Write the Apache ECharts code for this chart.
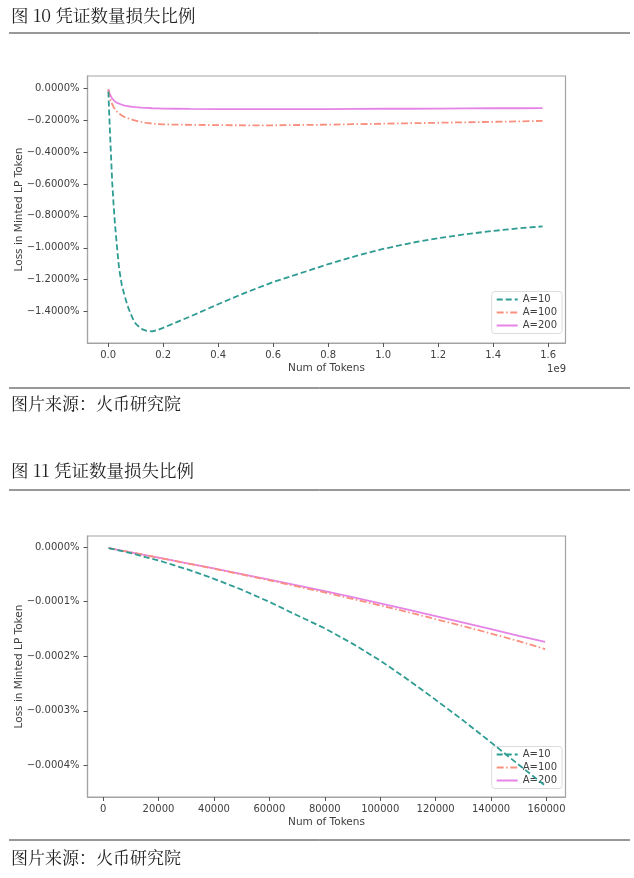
<!DOCTYPE html>
<html>
<head>
<meta charset="utf-8">
<script src="https://cdn.jsdelivr.net/npm/echarts@6/dist/echarts.min.js"></script>
<style>
html,body{margin:0;padding:0;background:#fff;}
#main{width:634px;height:878px;}
</style>
</head>
<body>
<div id="main"></div>
<script>
// ---------- Chart 10 data (x in tokens, y in %) ----------
var tokens1 = [0.001e9, 0.005e9, 0.01e9, 0.015e9, 0.02e9, 0.025e9, 0.03e9, 0.035e9, 0.04e9, 0.05e9, 0.06e9, 0.07e9, 0.08e9, 0.09e9,
  0.1e9, 0.12e9, 0.14e9, 0.16e9, 0.18e9, 0.2e9, 0.25e9, 0.3e9, 0.4e9, 0.5e9, 0.6e9, 0.7e9,
  0.8e9, 0.9e9, 1.0e9, 1.1e9, 1.2e9, 1.3e9, 1.4e9, 1.5e9, 1.58e9];
var a10_1 = [-0.02, -0.20, -0.40, -0.59, -0.73, -0.85, -0.95, -1.045, -1.13, -1.235, -1.30, -1.36, -1.405, -1.445,
  -1.475, -1.508, -1.521, -1.524, -1.516, -1.502, -1.466, -1.43, -1.354, -1.281, -1.215, -1.159,
  -1.103, -1.052, -1.007, -0.970, -0.940, -0.915, -0.894, -0.877, -0.866];
var a100_1 = [-0.01, -0.05, -0.08, -0.10, -0.118, -0.132, -0.143, -0.152, -0.160, -0.171, -0.180, -0.186, -0.192, -0.198,
  -0.203, -0.211, -0.217, -0.221, -0.224, -0.226, -0.228, -0.229, -0.231, -0.232, -0.232, -0.230,
  -0.228, -0.225, -0.222, -0.219, -0.216, -0.213, -0.210, -0.207, -0.204];
var a200_1 = [-0.005, -0.03, -0.05, -0.065, -0.075, -0.082, -0.088, -0.093, -0.097, -0.103, -0.108, -0.111, -0.114, -0.116,
  -0.118, -0.121, -0.123, -0.125, -0.126, -0.127, -0.128, -0.129, -0.130, -0.131, -0.131, -0.130,
  -0.130, -0.129, -0.128, -0.128, -0.127, -0.126, -0.125, -0.125, -0.124];
var xTicks1 = [0, 0.2e9, 0.4e9, 0.6e9, 0.8e9, 1.0e9, 1.2e9, 1.4e9, 1.6e9];
var yTicks1 = [0, -0.2, -0.4, -0.6, -0.8, -1.0, -1.2, -1.4];

// ---------- Chart 11 data ----------
var tokens2 = [2000, 10000, 20000, 30000, 40000, 50000, 60000, 70000, 80000, 90000,
  100000, 110000, 120000, 130000, 140000, 150000, 159500];
var a10_2 = [-0.000002, -0.0000112, -0.0000246, -0.0000403, -0.0000582, -0.0000782, -0.0001005,
  -0.000125, -0.000149, -0.000177, -0.000208, -0.000243, -0.000280, -0.000318, -0.000358,
  -0.000399, -0.000437];
var a100_2 = [-0.000002, -0.0000097, -0.0000196, -0.0000296, -0.0000398, -0.0000503, -0.0000610,
  -0.0000720, -0.0000833, -0.0000950, -0.0001070, -0.0001193, -0.0001320, -0.0001450, -0.0001585,
  -0.0001725, -0.0001870];
var a200_2 = [-0.000002, -0.0000097, -0.0000195, -0.0000293, -0.0000393, -0.0000495, -0.0000598,
  -0.0000703, -0.0000810, -0.0000920, -0.0001032, -0.0001147, -0.0001264, -0.0001384, -0.0001506,
  -0.0001628, -0.0001740];
var xTicks2 = [0, 20000, 40000, 60000, 80000, 100000, 120000, 140000, 160000];
var yTicks2 = [0, -0.0001, -0.0002, -0.0003, -0.0004];

var seriesNames = ['A=10', 'A=100', 'A=200'];
var titles = ['图 10 凭证数量损失比例', '图 11 凭证数量损失比例'];
var sourceText = '图片来源：火币研究院';

function pairs(xs, ys) { return xs.map(function (x, i) { return [x, ys[i]]; }); }
function pct(v) {
  var s = Math.abs(v).toFixed(4) + '%';
  return (v < -1e-12 ? '\u2212' : '') + s;
}

var colors = ['#2e9c93', '#f98f7e', '#e584e6'];
var dashes = [[6, 3], [7, 2.5, 1.5, 2.5], 'solid'];
var FONT = 'DejaVu Sans';
var txt = '#404040';
var frame = '#a3a3a3';

function mkX(idx, min, max, ticks, fmt) {
  return {
    type: 'value', gridIndex: idx, min: min, max: max,
    name: 'Num of Tokens', nameLocation: 'middle', nameGap: 20, nameMoveOverlap: false,
    nameTextStyle: { fontFamily: FONT, fontSize: 10.5, color: txt },
    axisLine: { show: true, onZero: false, lineStyle: { color: frame, width: 1.2 } },
    axisTick: { show: true, length: 4, lineStyle: { color: '#555' }, customValues: ticks },
    axisLabel: { margin: 7, fontFamily: FONT, fontSize: 10, color: txt, customValues: ticks, formatter: fmt },
    splitLine: { show: false }
  };
}
function mkY(idx, min, max, ticks) {
  return {
    type: 'value', gridIndex: idx, min: min, max: max,
    name: 'Loss in Minted LP Token', nameLocation: 'middle', nameGap: 63, nameRotate: 90, nameMoveOverlap: false,
    nameTextStyle: { fontFamily: FONT, fontSize: 10.5, color: txt },
    axisLine: { show: true, onZero: false, lineStyle: { color: frame, width: 1.2 } },
    axisTick: { show: true, length: 4, lineStyle: { color: '#555' }, customValues: ticks },
    axisLabel: { margin: 8, fontFamily: FONT, fontSize: 10, color: txt, customValues: ticks, formatter: pct },
    splitLine: { show: false }
  };
}
function mkSeries(idx, xs, ys, k) {
  return {
    type: 'line', name: seriesNames[k], xAxisIndex: idx, yAxisIndex: idx,
    data: pairs(xs, ys), showSymbol: false, symbol: 'none', smooth: false,
    lineStyle: { color: colors[k], width: 1.8, type: dashes[k] },
    itemStyle: { color: colors[k] }, z: 3 + (2 - k)
  };
}
function mkLegend(top) {
  return {
    data: seriesNames, orient: 'vertical', right: 72, top: top,
    itemWidth: 21, itemHeight: 10, itemGap: 3, padding: [3, 5, 3, 4],
    borderColor: '#dcdcdc', borderWidth: 1, borderRadius: 3, backgroundColor: 'rgba(255,255,255,0.8)',
    itemStyle: { opacity: 0 },
    textStyle: { fontFamily: FONT, fontSize: 10, color: txt }
  };
}
function rule(y) {
  return { type: 'line', shape: { x1: 9, y1: y, x2: 630, y2: y }, style: { stroke: '#333', lineWidth: 1 } };
}
function label(x, y, t, size, font, align) {
  return { type: 'text', x: x, y: y, style: { text: t, fontSize: size, fontFamily: font, fill: '#222', align: align || 'left', verticalAlign: 'middle' } };
}
var CJK = '"Noto Serif CJK SC", "Noto Sans CJK SC", serif';

var chart = echarts.init(document.getElementById('main'), null, { renderer: 'canvas' });
chart.setOption({
  animation: false,
  backgroundColor: '#fff',
  grid: [
    { left: 87.5, top: 76, width: 478, height: 267, show: true, borderColor: frame, borderWidth: 1.2 },
    { left: 87.5, top: 536, width: 478, height: 261, show: true, borderColor: frame, borderWidth: 1.2 }
  ],
  xAxis: [
    mkX(0, -0.0749e9, 1.6633e9, xTicks1, function (v) { return (v / 1e9).toFixed(1); }),
    mkX(1, -5630, 166860, xTicks2, function (v) { return String(Math.round(v)); })
  ],
  yAxis: [
    mkY(0, -1.597, 0.0772, yTicks1),
    mkY(1, -0.000458, 0.0000202, yTicks2)
  ],
  legend: [mkLegend(291.5), mkLegend(746.5)],
  series: [
    mkSeries(0, tokens1, a10_1, 0), mkSeries(0, tokens1, a100_1, 1), mkSeries(0, tokens1, a200_1, 2),
    mkSeries(1, tokens2, a10_2, 0), mkSeries(1, tokens2, a100_2, 1), mkSeries(1, tokens2, a200_2, 2)
  ],
  graphic: [
    label(11, 15, titles[0], 17.5, CJK),
    rule(33),
    { type: 'text', x: 566, y: 369, style: { text: '1e9', fontSize: 10, fontFamily: FONT, fill: txt, align: 'right', verticalAlign: 'middle' } },
    rule(388),
    label(11, 404, sourceText, 17, CJK),
    label(11, 470, titles[1], 17.5, CJK),
    rule(490),
    rule(840),
    label(11, 858, sourceText, 17, CJK)
  ]
});
</script>
</body>
</html>
